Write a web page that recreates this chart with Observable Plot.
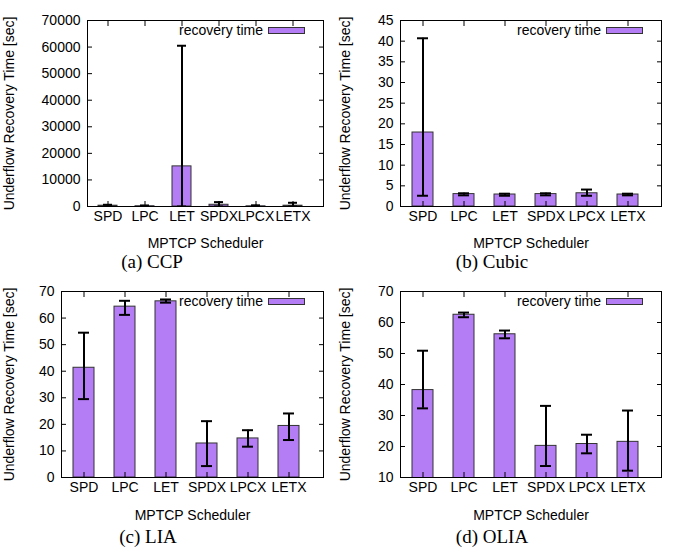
<!DOCTYPE html>
<html><head><meta charset="utf-8">
<script src="https://cdn.jsdelivr.net/npm/d3@7"></script>
<script src="https://cdn.jsdelivr.net/npm/@observablehq/plot@0.6"></script>
<style>
body{margin:0;background:#fff;}
#root{position:relative;width:673px;height:547px;font-family:"Liberation Sans",Arial,sans-serif;color:#000;overflow:hidden;}
.panel{position:absolute;}
.caption{position:absolute;font-family:"Liberation Serif","Times New Roman",serif;font-size:19px;line-height:19px;transform:translateX(-50%);white-space:nowrap;}
.legend{position:absolute;display:flex;align-items:center;font-size:14px;line-height:15px;height:15px;white-space:nowrap;}
.swatch{display:inline-block;width:35px;height:5px;border:1px solid #333;margin-left:5px;}
</style></head><body><div id="root"></div>
<script>
const schedulers = ["SPD", "LPC", "LET", "SPDX", "LPCX", "LETX"];

const ccpMean = [300, 100, 15100, 650, 80, 300];
const ccpLow  = [0, 0, 0, 0, 0, 0];
const ccpHigh = [650, 400, 60500, 1650, 450, 1400];
const ccpTicks = [0, 10000, 20000, 30000, 40000, 50000, 60000, 70000];

const cubicMean = [17.9, 3.0, 2.9, 3.0, 3.2, 2.9];
const cubicLow  = [2.6, 2.7, 2.6, 2.7, 2.6, 2.7];
const cubicHigh = [40.7, 3.2, 3.1, 3.2, 4.1, 3.1];
const cubicTicks = [0, 5, 10, 15, 20, 25, 30, 35, 40, 45];

const liaMean = [41.3, 64.3, 66.3, 12.8, 14.7, 19.4];
const liaLow  = [29.5, 61.2, 65.8, 4.3, 11.6, 14.1];
const liaHigh = [54.5, 66.5, 67.0, 21.2, 17.8, 24.1];
const liaTicks = [0, 10, 20, 30, 40, 50, 60, 70];

const oliaMean = [38.2, 62.5, 56.2, 20.2, 20.8, 21.5];
const oliaLow  = [32.3, 61.7, 54.9, 13.7, 17.8, 12.2];
const oliaHigh = [50.9, 63.2, 57.4, 33.1, 23.8, 31.6];
const oliaTicks = [10, 20, 30, 40, 50, 60, 70];

const captions = ["(a) CCP", "(b) Cubic", "(c) LIA", "(d) OLIA"];
const legendLabel = "recovery time";
const yLabel = "Underflow Recovery Time [sec]";
const xLabel = "MPTCP Scheduler";

const PURPLE = "#b57df5";
const fmt = d3.format("d");

function makePlot(cfg) {
  const data = schedulers.map((s, i) => ({s, v: cfg.mean[i], lo: cfg.lo[i], hi: cfg.hi[i]}));
  const noText = () => "";
  return Plot.plot({
    width: cfg.w, height: cfg.h,
    marginLeft: cfg.ml, marginRight: cfg.mr, marginTop: cfg.mt, marginBottom: cfg.mb,
    style: {fontFamily: "'Liberation Sans', Arial, sans-serif", fontSize: "14px", color: "black", background: "white", overflow: "visible"},
    x: {type: "band", domain: schedulers, paddingInner: 0.5, paddingOuter: 0.375, align: 1/3},
    y: {domain: [cfg.ticks[0], cfg.ticks[cfg.ticks.length - 1]]},
    marks: [
      Plot.barY(data, {x: "s", y: "v", fill: PURPLE, stroke: "#333", strokeWidth: 1, clip: true}),
      Plot.ruleX(data, {x: "s", y1: "lo", y2: "hi", stroke: "black", strokeWidth: 2, clip: true}),
      Plot.tickY(data, {x: "s", y: "hi", stroke: "black", strokeWidth: 2, insetLeft: 5, insetRight: 5, clip: true}),
      Plot.tickY(data, {x: "s", y: "lo", stroke: "black", strokeWidth: 2, insetLeft: 5, insetRight: 5, clip: true}),
      Plot.frame({stroke: "black", strokeWidth: 1}),
      Plot.axisY(cfg.ticks, {anchor: "left", tickSize: 0, tickPadding: 7, tickFormat: fmt,
        label: yLabel, labelAnchor: "center", labelArrow: "none", labelOffset: cfg.ml - 4}),
      Plot.axisY(cfg.ticks, {anchor: "left", tickSize: -5, tickFormat: noText, label: null}),
      Plot.axisY(cfg.ticks, {anchor: "right", tickSize: -5, tickFormat: noText, label: null}),
      Plot.axisX({anchor: "bottom", tickSize: 0, tickPadding: 5,
        label: xLabel, labelAnchor: "center", labelArrow: "none", labelOffset: cfg.lo2}),
      Plot.axisX({anchor: "bottom", tickSize: -5, tickFormat: noText, label: null}),
      Plot.axisX({anchor: "top", tickSize: -5, tickFormat: noText, label: null})
    ]
  });
}

const panels = [
  {mean: ccpMean, lo: ccpLow, hi: ccpHigh, ticks: ccpTicks, left: 0, top: 0, w: 336, h: 254, ml: 87, mr: 13, mt: 20, mb: 48, lo2: 41, cap: 152, capTop: 252},
  {mean: cubicMean, lo: cubicLow, hi: cubicHigh, ticks: cubicTicks, left: 336, top: 0, w: 337, h: 254, ml: 64, mr: 12, mt: 20, mb: 48, lo2: 41, cap: 492, capTop: 252},
  {mean: liaMean, lo: liaLow, hi: liaHigh, ticks: liaTicks, left: 0, top: 273, w: 336, h: 254, ml: 61, mr: 13, mt: 18, mb: 50, lo2: 42, cap: 148, capTop: 527},
  {mean: oliaMean, lo: oliaLow, hi: oliaHigh, ticks: oliaTicks, left: 336, top: 273, w: 337, h: 254, ml: 64, mr: 12, mt: 18, mb: 50, lo2: 42, cap: 492, capTop: 527}
];

const root = document.getElementById("root");
panels.forEach((cfg, k) => {
  const div = document.createElement("div");
  div.className = "panel";
  div.style.left = cfg.left + "px";
  div.style.top = cfg.top + "px";
  div.style.width = cfg.w + "px";
  div.style.height = cfg.h + "px";
  div.appendChild(makePlot(cfg));
  const leg = document.createElement("div");
  leg.className = "legend";
  leg.style.right = (cfg.mr + 18) + "px";
  leg.style.top = (cfg.mt + 3) + "px";
  const t = document.createElement("span");
  t.textContent = legendLabel;
  const sw = document.createElement("span");
  sw.className = "swatch";
  sw.style.background = PURPLE;
  leg.appendChild(t); leg.appendChild(sw);
  div.appendChild(leg);
  root.appendChild(div);
  const cap = document.createElement("div");
  cap.className = "caption";
  cap.textContent = captions[k];
  cap.style.left = cfg.cap + "px";
  cap.style.top = cfg.capTop + "px";
  root.appendChild(cap);
});
</script>
</body></html>
